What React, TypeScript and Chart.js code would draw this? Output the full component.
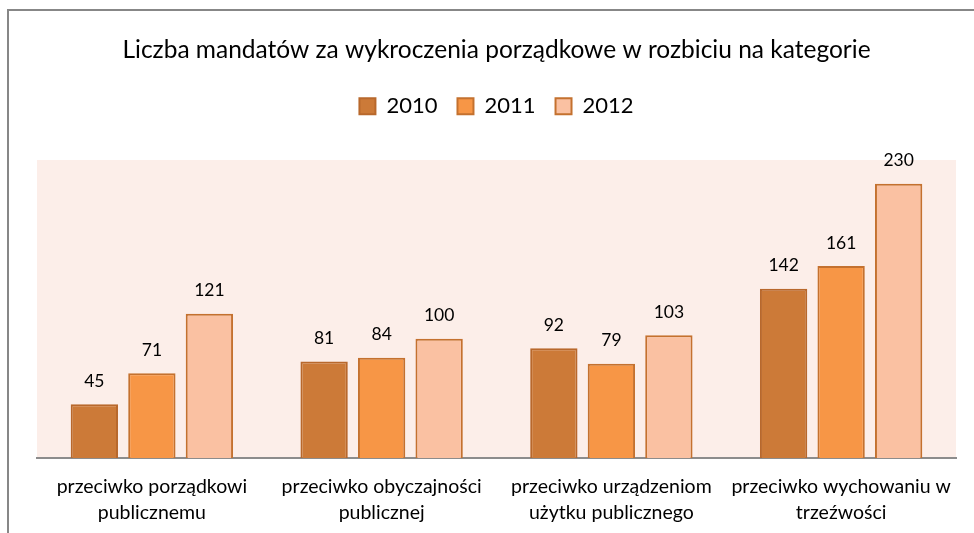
import React, { useEffect, useRef } from "react";
import { Chart, registerables } from "chart.js";

Chart.register(...registerables);

const categories: string[][] = [
  ["przeciwko porządkowi", "publicznemu"],
  ["przeciwko obyczajności", "publicznej"],
  ["przeciwko urządzeniom", "użytku publicznego"],
  ["przeciwko wychowaniu w", "trzeźwości"],
];
const seriesLabels = ["2010", "2011", "2012"];
const values2010 = [45, 81, 92, 142];
const values2011 = [71, 84, 79, 161];
const values2012 = [121, 100, 103, 230];
const titleText = "Liczba mandatów za wykroczenia porządkowe w rozbiciu na kategorie";
const yMax = 250;

const FONT = "Lato";

const framePlugin = {
  id: "frame",
  beforeDraw(chart: any) {
    const { ctx, width, height, chartArea } = chart;
    ctx.save();
    ctx.fillStyle = "#ffffff";
    ctx.fillRect(0, 0, width, height);
    ctx.strokeStyle = "#878787";
    ctx.lineWidth = 2;
    ctx.beginPath();
    ctx.moveTo(8, height);
    ctx.lineTo(8, 10);
    ctx.lineTo(width, 10);
    ctx.stroke();
    ctx.fillStyle = "#FCEEE9";
    ctx.fillRect(
      chartArea.left,
      chartArea.top,
      chartArea.right - chartArea.left,
      chartArea.bottom - chartArea.top
    );
    ctx.restore();
  },
};

const valueLabelPlugin = {
  id: "valueLabels",
  afterDatasetsDraw(chart: any) {
    const { ctx } = chart;
    ctx.save();
    ctx.font = `17.5px ${FONT}`;
    ctx.fillStyle = "#000000";
    ctx.textAlign = "center";
    ctx.textBaseline = "alphabetic";
    chart.data.datasets.forEach((ds: any, di: number) => {
      const meta = chart.getDatasetMeta(di);
      meta.data.forEach((bar: any, i: number) => {
        ctx.fillText(String(ds.data[i]), bar.x, bar.y - 17.5);
      });
    });
    ctx.restore();
  },
};

export default function App() {
  const ref = useRef<HTMLCanvasElement | null>(null);

  useEffect(() => {
    document.body.style.margin = "0";
    const canvas = ref.current;
    if (!canvas) return;
    const chart = new Chart(canvas, {
      type: "bar",
      data: {
        labels: categories,
        datasets: [
          {
            label: seriesLabels[0],
            data: values2010,
            backgroundColor: "#CC7A38",
            borderColor: "#B8682C",
            borderWidth: 2,
          },
          {
            label: seriesLabels[1],
            data: values2011,
            backgroundColor: "#F79646",
            borderColor: "#C4712F",
            borderWidth: 2,
          },
          {
            label: seriesLabels[2],
            data: values2012,
            backgroundColor: "#FAC1A2",
            borderColor: "#C4712F",
            borderWidth: 2,
          },
        ],
      },
      options: {
        responsive: false,
        animation: false,
        events: [],
        layout: { padding: { top: 24, left: 37, right: 18, bottom: 0 } },
        datasets: {
          bar: { categoryPercentage: 0.751, barPercentage: 0.823 },
        },
        plugins: {
          title: {
            display: true,
            text: titleText,
            color: "#000000",
            font: { family: FONT, size: 24.5, weight: "normal" },
            padding: { top: 11.3, bottom: 10.5 },
          },
          subtitle: {
            display: true,
            text: "",
            weight: 500,
            font: { family: FONT, size: 10, lineHeight: 1 },
            padding: { top: 22.8, bottom: 0 },
          } as any,
          legend: {
            display: true,
            position: "top",
            labels: {
              boxWidth: 16,
              boxHeight: 16,
              padding: 20,
              color: "#000000",
              font: { family: FONT, size: 22 },
            },
          },
          tooltip: { enabled: false },
        },
        scales: {
          x: {
            grid: { display: false, drawTicks: false },
            border: { display: true, color: "#8C8C8C", width: 2 },
            ticks: {
              color: "#000000",
              font: { family: FONT, size: 19.5, lineHeight: 1.36 },
              padding: 15,
              maxRotation: 0,
              autoSkip: false,
            },
            afterFit(scale: any) {
              scale.height = 75;
            },
          },
          y: {
            display: false,
            min: 0,
            max: yMax,
          },
        },
      },
      plugins: [framePlugin, valueLabelPlugin],
    });
    return () => chart.destroy();
  }, []);

  return (
    <div style={{ position: "fixed", left: 0, top: 0, width: 974, height: 533 }}>
      <canvas ref={ref} width={974} height={533} style={{ display: "block" }} />
    </div>
  );
}
